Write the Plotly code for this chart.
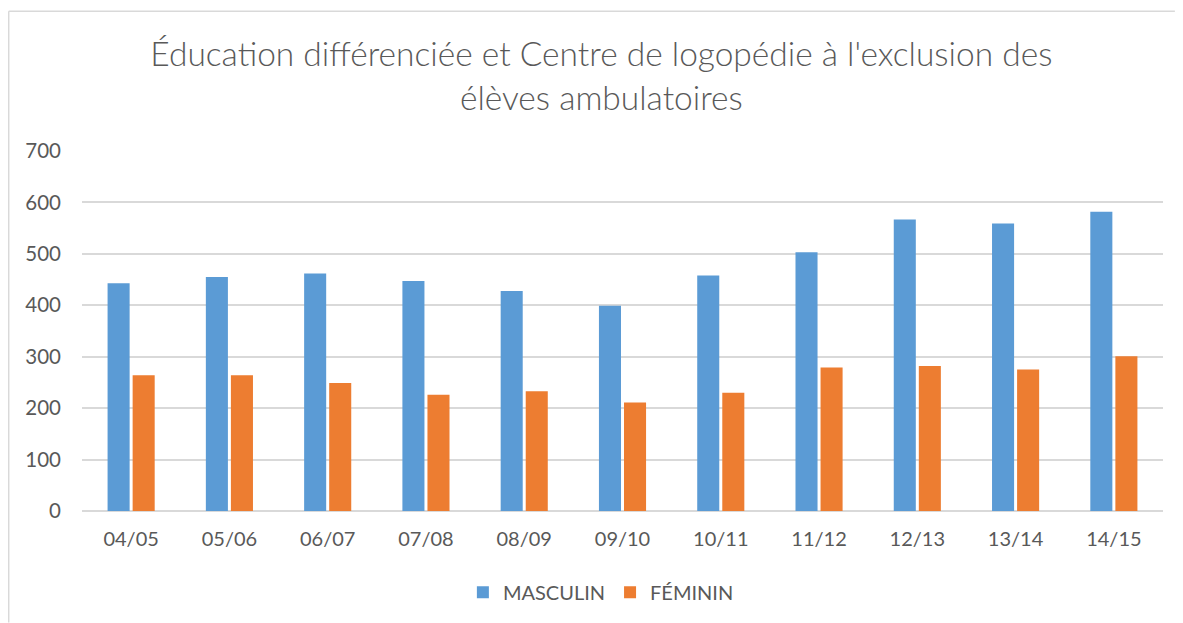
import plotly.graph_objects as go

## school years (x axis)
years = ['04/05', '05/06', '06/07', '07/08', '08/09', '09/10',
         '10/11', '11/12', '12/13', '13/14', '14/15']

## pupils per year
masculin = [443, 455, 462, 447, 428, 399, 458, 503, 567, 559, 582]
feminin = [264, 264, 249, 226, 233, 211, 230, 279, 282, 275, 301]

title_text = ("Éducation différenciée et Centre de logopédie à l'exclusion des"
              "<br>élèves ambulatoires")

txt_col = '#595959'
grid_col = '#D9D9D9'
font_main = 'Lato, Open Sans, sans-serif'

fig = go.Figure()
fig.add_trace(go.Bar(x=years, y=masculin, name='MASCULIN',
                     marker=dict(color='#5B9BD5', line=dict(width=0))))
fig.add_trace(go.Bar(x=years, y=feminin, name='FÉMININ',
                     marker=dict(color='#ED7D31', line=dict(width=0))))

## page body has an 8px margin, so the figure is sized 8px smaller
fig.update_layout(
    width=1175, height=615,
    paper_bgcolor='white', plot_bgcolor='white',
    margin=dict(l=74, r=20, t=143, b=111),
    barmode='group', bargap=0.49, bargroupgap=0.12,
    font=dict(family=font_main, color=txt_col, size=20),
    title=dict(text=title_text, x=0.505, xanchor='center',
               y=0.905, yanchor='top', yref='container',
               font=dict(size=33.5, color=txt_col, family=font_main, weight=300)),
    legend=dict(orientation='h', x=0.48, xanchor='center',
                y=-0.222, yanchor='middle',
                font=dict(size=20, color=txt_col),
                traceorder='normal'),
    xaxis=dict(showgrid=False, ticks='', showline=False,
               ticklabelstandoff=14,
               tickfont=dict(size=20, color=txt_col)),
    yaxis=dict(range=[0, 700], dtick=100, showgrid=True, gridcolor=grid_col,
               gridwidth=1.5, zeroline=True, zerolinecolor=grid_col,
               zerolinewidth=1.5, ticks='', showline=False,
               ticklabelstandoff=20,
               tickfont=dict(size=20.5, color=txt_col)),
)

## light chart border (left + top like the reference frame)
fig.add_shape(type='line', xref='paper', yref='paper',
              x0=-0.0678, x1=-0.0678, y0=-0.31, y1=1.388,
              line=dict(color=grid_col, width=1.5))
fig.add_shape(type='line', xref='paper', yref='paper',
              x0=-0.0678, x1=1.011, y0=1.388, y1=1.388,
              line=dict(color=grid_col, width=1.5))

fig.write_html("out.html")
